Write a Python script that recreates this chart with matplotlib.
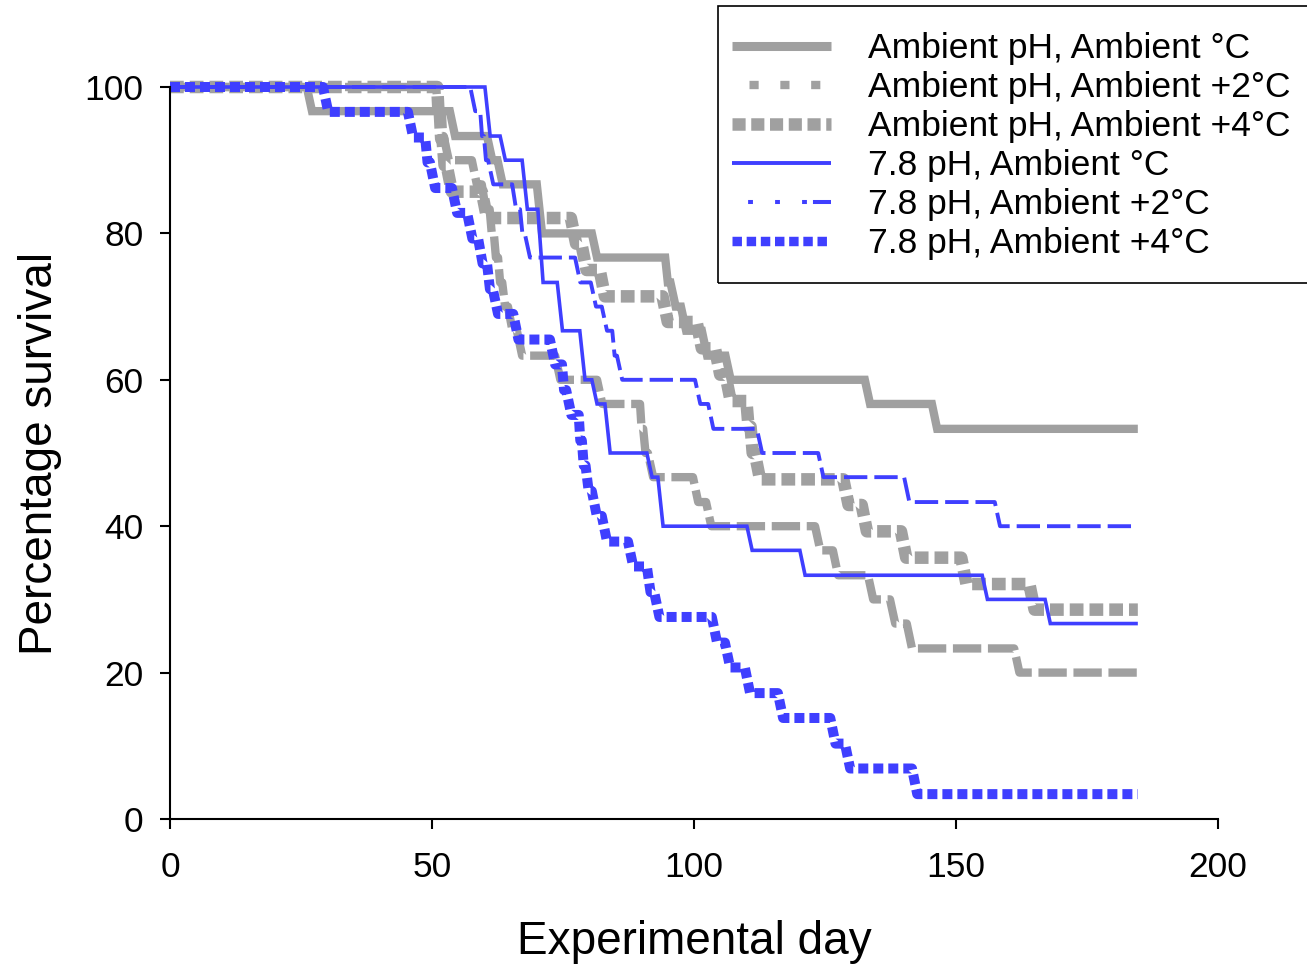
import numpy as np
import matplotlib.pyplot as plt
from matplotlib.lines import Line2D
from matplotlib.patches import Rectangle

plt.rcParams['font.family'] = ['Liberation Sans', 'DejaVu Sans']

grey = '#a0a0a0'
blue = '#3f3fff'
end_day = 184.7

# survival curves: day of each drop and % survival after it
amb_amb_day = [0, 26.1, 53.4, 60.5, 62.5, 70.0, 80.5, 94.5, 95.5, 97.5, 101.5, 106.0, 132.6, 145.4]
amb_amb_pct = [100, 96.7, 93.3, 90.0, 86.7, 80.0, 76.7, 73.3, 70.0, 66.7, 63.3, 60.0, 56.7, 53.3]

amb_2_day = [0, 50.8, 51.5, 52.2, 57.6, 59.5, 61.0, 61.8, 62.6, 63.4, 64.5, 66.2, 73.5, 81.5,
             89.7, 90.3, 91.2, 99.8, 102.3, 123.1, 126.5, 133.2, 137.4, 140.6, 161.1]
amb_2_pct = [100, 96.7, 93.3, 90.0, 86.7, 83.3, 80.0, 76.7, 73.3, 70.0, 66.7, 63.3, 60.0, 56.7,
             53.3, 50.0, 46.7, 43.3, 40.0, 36.7, 33.3, 30.0, 26.7, 23.3, 20.0]

amb_4_day = [0, 51.0, 51.5, 52.0, 52.8, 59.5, 76.5, 78.5, 82.0, 94.0, 100.5, 104.0, 106.0,
             110.0, 110.8, 111.6, 128.5, 132.0, 139.5, 151.0, 164.0]
amb_4_pct = [100, 96.4, 92.9, 89.3, 85.7, 82.1, 78.6, 75.0, 71.4, 67.9, 64.3, 60.7, 57.1,
             53.6, 50.0, 46.4, 42.9, 39.3, 35.7, 32.1, 28.6]

ph_amb_day = [0, 60.1, 63.0, 67.2, 70.2, 73.9, 78.2, 80.5, 83.0, 91.0, 93.1, 110.1, 120.2, 155.0, 167.0]
ph_amb_pct = [100, 93.3, 90.0, 83.3, 73.3, 66.7, 60.0, 56.7, 50.0, 46.7, 40.0, 36.7, 33.3, 30.0, 26.7]

ph_2_day = [0, 57.3, 59.2, 59.9, 60.7, 65.3, 66.8, 67.7, 77.3, 80.3, 82.4, 84.4, 85.3,
            100.2, 102.7, 112.0, 123.7, 140.1, 157.4]
ph_2_pct = [100, 96.7, 93.3, 90.0, 86.7, 83.3, 80.0, 76.7, 73.3, 70.0, 66.7, 63.3, 60.0,
            56.7, 53.3, 50.0, 46.7, 43.3, 40.0]

ph_4_day = [0, 29.2, 45.4, 48.7, 49.6, 53.8, 56.7, 58.8, 60.5, 61.6, 65.5, 72.5, 74.8, 75.6,
            78.0, 78.6, 79.3, 80.5, 82.4, 87.4, 91.0, 92.4, 103.4, 105.9, 109.7, 116.0,
            126.0, 128.8, 141.6]
ph_4_pct = [100, 96.6, 93.1, 89.7, 86.2, 82.8, 79.3, 75.9, 72.4, 69.0, 65.5, 62.1, 58.6, 55.2,
            51.7, 48.3, 44.8, 41.4, 37.9, 34.5, 31.0, 27.6, 24.1, 20.7, 17.2, 13.8,
            10.3, 6.9, 3.4]

labels = ['Ambient pH, Ambient °C', 'Ambient pH, Ambient +2°C', 'Ambient pH, Ambient +4°C',
          '7.8 pH, Ambient °C', '7.8 pH, Ambient +2°C', '7.8 pH, Ambient +4°C']


def step_path(days, pct, end):
    # drops drawn as short slanted segments, like the original
    xs, ys = [days[0]], [pct[0]]
    for i in range(1, len(days)):
        nxt = days[i + 1] if i + 1 < len(days) else end
        w = min(1.0, 0.5 * (nxt - days[i]))
        xs += [days[i], days[i] + w]
        ys += [pct[i - 1], pct[i]]
    xs.append(end)
    ys.append(pct[-1])
    return xs, ys


fig = plt.figure(figsize=(13.07, 9.64), dpi=100)
ax = fig.add_axes([170 / 1307, 1 - 819 / 964, 1048 / 1307, 732 / 964])

styles = [
    (amb_amb_day, amb_amb_pct, dict(color=grey, lw=6, ls='-')),
    (amb_2_day, amb_2_pct, dict(color=grey, lw=6, ls=(0, (3.4, 0.8)))),
    (amb_4_day, amb_4_pct, dict(color=grey, lw=9, ls=(0, (1.1, 0.48)))),
    (ph_amb_day, ph_amb_pct, dict(color=blue, lw=2.6, ls='-')),
    (ph_2_day, ph_2_pct, dict(color=blue, lw=2.8, ls=(0, (6, 1.8)))),
    (ph_4_day, ph_4_pct, dict(color=blue, lw=7.2, ls=(0, (1.0, 0.5)))),
]
for d, p, st in styles:
    xs, ys = step_path(d, p, end_day)
    ax.plot(xs, ys, clip_on=False, solid_capstyle='butt', solid_joinstyle='miter', **st)

ax.set_xlim(0, 200)
ax.set_ylim(0, 100)
ax.set_xticks([0, 50, 100, 150, 200])
ax.set_yticks([0, 20, 40, 60, 80, 100])
ax.spines['top'].set_visible(False)
ax.spines['right'].set_visible(False)
for s in ['left', 'bottom']:
    ax.spines[s].set_linewidth(1.5)
ax.tick_params(direction='out', length=7, width=1.5, labelsize=25.5)
ax.tick_params(axis='x', pad=16)
ax.tick_params(axis='y', pad=12)
ax.set_xlabel('Experimental day', fontsize=33, labelpad=26)
ax.set_ylabel('Percentage survival', fontsize=33, labelpad=16)

# legend handles (patterns as in the original key)
handles = [
    Line2D([], [], color=grey, lw=6.5, solid_capstyle='butt'),
    Line2D([], [], color=grey, lw=6, ls=(1.6, (1.1, 2.6))),
    Line2D([], [], color=grey, lw=9, ls=(0, (1.05, 0.45))),
    Line2D([], [], color=blue, lw=2.8, solid_capstyle='butt'),
    Line2D([], [], color=blue, lw=2.9, ls=(21.6, (1.2, 5.5, 1.2, 5.5, 1.2, 1.5, 4.5, 5.0))),
    Line2D([], [], color=blue, lw=6.8, ls=(0, (1.0, 0.5))),
]
fig.legend(handles, labels, loc='upper left', bbox_to_anchor=(732 / 1307, 1 - 32 / 964),
           frameon=False, fontsize=25.5, borderpad=0, borderaxespad=0,
           handlelength=2.8, handletextpad=1.03, labelspacing=0.17)
fig.add_artist(Rectangle((718 / 1307, 1 - 283 / 964), 0.5, 277 / 964, transform=fig.transFigure,
                         fill=False, ec='black', lw=1.2))

fig.savefig('out.png', dpi=100)
